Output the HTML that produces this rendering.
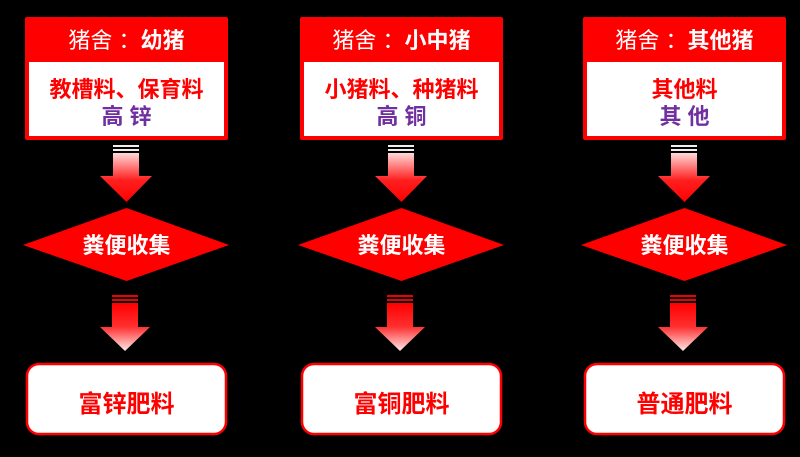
<!DOCTYPE html>
<html><head><meta charset="utf-8"><style>
html,body{margin:0;padding:0;background:#000;}
svg{display:block;}
text{font-family:"Liberation Sans","Noto Sans CJK SC",sans-serif;}
</style></head><body>
<svg width="800" height="457" viewBox="0 0 800 457" xmlns="http://www.w3.org/2000/svg">
<defs>
<linearGradient id="g1" x1="0" y1="0" x2="0" y2="1">
<stop offset="0" stop-color="#ffd8d8"/><stop offset="0.55" stop-color="#ff2020"/><stop offset="1" stop-color="#ff0000"/>
</linearGradient>
<linearGradient id="g2" x1="0" y1="0" x2="0" y2="1">
<stop offset="0" stop-color="#ff0000"/><stop offset="0.5" stop-color="#ff3030"/><stop offset="1" stop-color="#ffe8e8"/>
</linearGradient>
<g id="col">
<rect x="0" y="17" width="203" height="123" rx="2" fill="#ff0000"/>
<rect x="4" y="62" width="195" height="74" fill="#fff"/>
<rect x="88" y="145" width="26" height="2" fill="#eee"/>
<rect x="88" y="149" width="26" height="2" fill="#eee"/>
<path d="M88 153 H114 V176 H127 L101.5 202 L75 176 H88 Z" fill="url(#g1)"/>
<path d="M101.5 208 L204 245 L101.5 281 L-2 245 Z" fill="#ff0000"/>
<rect x="87" y="295" width="26" height="2" fill="#e00"/>
<rect x="87" y="299" width="26" height="2" fill="#e00"/>
<path d="M87 303 H113 V327 H125 L100 351 L75 327 H87 Z" fill="url(#g2)"/>
<rect x="2" y="364" width="199" height="70" rx="12" fill="#fff" stroke="#ff0000" stroke-width="2.5"/>
<text x="101.5" y="253" font-size="22" font-weight="bold" fill="#fff" text-anchor="middle">粪便收集</text>
</g>
</defs>
<use href="#col" x="25"/>
<use href="#col" x="300"/>
<use href="#col" x="583"/>
<g font-size="22" fill="#fff" text-anchor="middle">
<text x="126.5" y="48"><tspan>猪舍 ：</tspan><tspan font-weight="bold">幼猪</tspan></text>
<text x="401.5" y="48"><tspan>猪舍 ：</tspan><tspan font-weight="bold">小中猪</tspan></text>
<text x="684.5" y="48"><tspan>猪舍 ：</tspan><tspan font-weight="bold">其他猪</tspan></text>
</g>
<g font-size="22" font-weight="bold" text-anchor="middle">
<text x="126.5" y="97" fill="#ff0000">教槽料、保育料</text>
<text x="126.5" y="124" fill="#7030a0">高 锌</text>
<text x="401.5" y="97" fill="#ff0000">小猪料、种猪料</text>
<text x="401.5" y="124" fill="#7030a0">高 铜</text>
<text x="684.5" y="97" fill="#ff0000">其他料</text>
<text x="684.5" y="124" fill="#7030a0">其 他</text>
</g>
<g font-size="24" font-weight="bold" fill="#ff0000" text-anchor="middle">
<text x="126.5" y="412">富锌肥料</text>
<text x="401.5" y="412">富铜肥料</text>
<text x="684.5" y="412">普通肥料</text>
</g>
</svg>
</body></html>
